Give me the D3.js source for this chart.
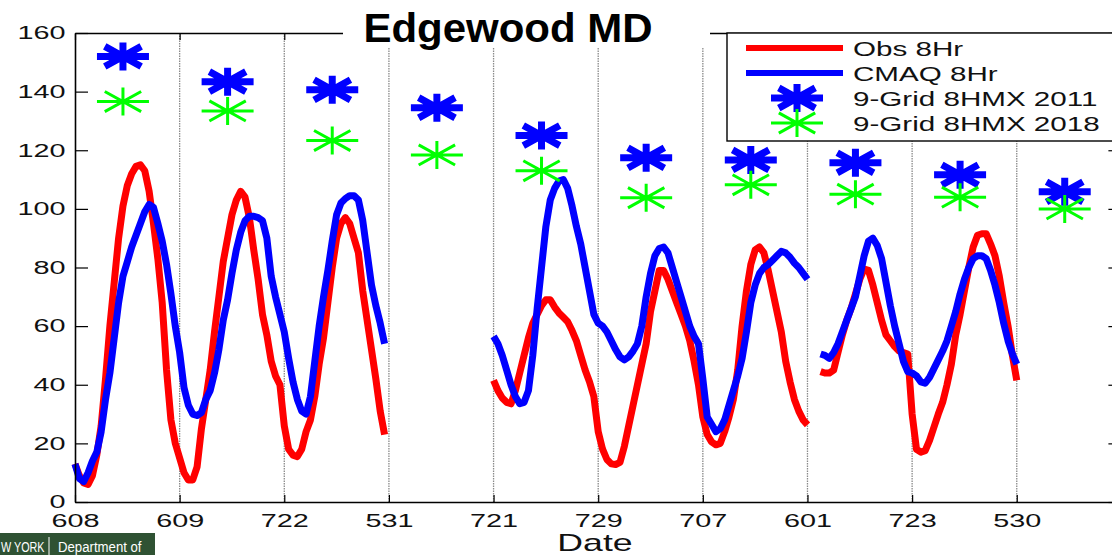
<!DOCTYPE html>
<html><head><meta charset="utf-8">
<script src="https://cdn.jsdelivr.net/npm/d3@7"></script>
<style>
body{margin:0;background:#fff;overflow:hidden;}
svg{display:block;}
text{font-family:"Liberation Sans",Arial,Helvetica,sans-serif;}
</style>
</head><body>
<svg id="c" width="1112" height="555"></svg>
<script>
// ---------------- data ----------------
const dayLabels = ['608','609','722','531','721','729','707','601','723','530'];
const yTicks = [0,20,40,60,80,100,120,140,160];
const segStarts = [0, 96, 171];   // first hour of each continuous segment
const markerHour = 11;            // hour within each day where the 9-grid maxima are plotted

const obsA = [13,9,6.5,6,9,16,26,42,60,75,90,101,108,112,114.5,115,113,106,95,83,68,45,28,20,
  15,10,7.5,7.5,12,25,35,45,58,70,82,90,98,103,106,104,97,86,76,64,57,48,43,40,
  26,18,16,15.5,18,24,28,36,47,56,68,80,90,95,97,95,90,85,72,62,52,42,31,23];
const obsB = [41.5,38,35.5,34,33.5,38,44,50,56,61,64,67,69,69,66.5,64.5,63,61.5,58.5,55,50,45,41,36,
  24,18,14.5,13,12.8,13.5,19,26,33,40,47,54,65,72,79,79,76,72,68,64,60,55,48,40,
  29,23,20.5,19.5,20,24,29,35,45,60,72,81,86,87,85,79,72,65,58,48,41,35,31,28,26.3];
const obsC = [44.5,44,44,45,51,57,62,66,71,76,79.5,79,74,68,62,57,55,53,51.5,51,50.5,30,18,17,
  17.5,21,25.5,30,34,40,47,57,64,72,80,87,91,91.5,91.5,88,84,77,68,60,50,41.5];

const cmaqA = [13,8,7,10,14,17,24,35,44,56,68,77,82,87,91,95,99,101.5,100.5,95,89,81,71,60,
  51,39,33,30,29.5,30.5,35,38,44,52,62,69,78,86,92,96,97.5,97.5,97,96,90,77,70,64,
  58,49,41,35,31,30,36,48,60,70,79,89,98,102,103.5,104.5,104.5,103,96,85,74,67,61,54];
const cmaqB = [56.5,54,50,45,40,36,33.5,34,38,50,66,80,94,103,107,109.5,110,107,101,94,88,80,72,64,
  61,60,58,55,52,49.5,48.5,49.5,51.5,54,60,70,78,84,86.5,87,85,80,75,70,65,60,56.5,54,
  42,29,26.5,24,25,28,33,38,43,49,58,68,74,78,80,81,82.5,84,85.5,85,83.5,81.5,80,78,76];
const cmaqC = [50.5,50,49,51,54,58,62,66,70,77,84,89,90,87.5,83,75,67,60,54,48,44.5,44,43,41,
  40.5,42.5,45.5,48.5,51.5,55,60,65,71,76,80,83,84,84,83,79,74,68,61,55,50.5,47];

const grid2011 = [152,143.4,140.6,134.5,125,117.4,116.7,115.7,111.6,105.8];
const grid2018 = [136.6,133.4,123.3,118.4,113,103.8,108.2,105,104,100];

const legendLabels = ['Obs  8Hr','CMAQ 8Hr','9-Grid 8HMX 2011','9-Grid 8HMX 2018'];
const titleText = 'Edgewood MD';
const xTitle = 'Date';

// ---------------- drawing ----------------
const RED='#ff0000', BLUE='#0000ff', GREEN='#00ff00';
const svg = d3.select('#c');
const L=75, T=33, B=502;
const x = d3.scaleLinear().domain([0,240]).range([L, L+240*4.36]);
const y = d3.scaleLinear().domain([0,160]).range([B, T]);
const R = x(240);
const dayTicks = dayLabels.map((d,i)=>i*24);

// dotted vertical grid lines at day boundaries
svg.append('g').selectAll('line').data(dayTicks.slice(1)).join('line')
  .attr('x1',d=>x(d)).attr('x2',d=>x(d)).attr('y1',T).attr('y2',B)
  .attr('stroke','#8a8a8a').attr('stroke-width',1.3).attr('stroke-dasharray','1.5,1');

// lines
const line = (start)=>d3.line().x((d,i)=>x(start+i)).y(d=>y(d));
const series = [
  {data:[obsA,obsB,obsC], color:RED},
  {data:[cmaqA,cmaqB,cmaqC], color:BLUE}
];
series.forEach(s=>{
  s.data.forEach((arr,k)=>{
    svg.append('path').datum(arr).attr('d',line(segStarts[k]))
      .attr('fill','none').attr('stroke',s.color).attr('stroke-width',7)
      .attr('stroke-linejoin','round').attr('stroke-linecap','butt');
  });
});

// asterisk marker
function star(g, cx, cy, color, sw){
  const rx=26, ry=14, dx=rx*0.7, dy=ry*0.72;
  const p = `M${cx-rx},${cy}H${cx+rx}M${cx},${cy-ry}V${cy+ry}`+
    `M${cx-dx},${cy-dy}L${cx+dx},${cy+dy}M${cx-dx},${cy+dy}L${cx+dx},${cy-dy}`;
  g.append('path').attr('d',p).attr('stroke',color).attr('stroke-width',sw).attr('fill','none');
}
const mk = svg.append('g');
grid2011.forEach((v,i)=>star(mk, x(i*24+markerHour), y(v), BLUE, 7));
grid2018.forEach((v,i)=>star(mk, x(i*24+markerHour), y(v), GREEN, 3));

// axes
const FS = 18, SX = 1.6;
const ax = svg.append('g');
const gL = ax.append('g').attr('transform',`translate(${L},0)`)
  .call(d3.axisLeft(y).tickValues(yTicks).tickSizeInner(-13).tickSizeOuter(0).tickPadding(6));
const gRt = ax.append('g').attr('transform',`translate(${R},0)`)
  .call(d3.axisRight(y).tickValues(yTicks).tickSizeInner(-13).tickSizeOuter(0).tickFormat(''));
const gB = ax.append('g').attr('transform',`translate(0,${B})`)
  .call(d3.axisBottom(x).tickValues(dayTicks).tickSizeInner(-7).tickSizeOuter(0).tickPadding(12)
    .tickFormat((d,i)=>dayLabels[i]));
const gT = ax.append('g').attr('transform',`translate(0,${T})`)
  .call(d3.axisTop(x).tickValues(dayTicks).tickSizeInner(-7).tickSizeOuter(0).tickFormat(''));
[gL,gRt,gB,gT].forEach(g=>{
  g.select('.domain').attr('stroke','#000').attr('stroke-width',1.6);
  g.selectAll('.tick line').attr('stroke','#000').attr('stroke-width',1.2);
  g.selectAll('text').attr('font-size',FS).attr('fill','#111')
   .attr('font-family','"Liberation Sans",Arial,sans-serif');
});
gL.selectAll('text').attr('transform',`scale(${SX},1)`);
gB.selectAll('text').attr('transform',`scale(${SX},1)`);

// x title
svg.append('text').attr('transform',`translate(595,551) scale(1.55,1)`)
  .attr('text-anchor','middle').attr('font-size',23).attr('fill','#111').text(xTitle);

// title with white background
svg.append('rect').attr('x',343).attr('y',18).attr('width',367).attr('height',30).attr('fill','#fff');
svg.append('text').attr('transform','translate(508,42) scale(1.05,1)')
  .attr('text-anchor','middle').attr('font-size',40).attr('font-weight','bold').attr('fill','#000')
  .text(titleText);

// legend
const lg = svg.append('g');
lg.append('rect').attr('x',727).attr('y',33).attr('width',420).attr('height',108)
  .attr('fill','#fff').attr('stroke','#000').attr('stroke-width',1.4);
const rowsY = [48,73,98,123];
lg.append('line').attr('x1',746).attr('x2',843).attr('y1',rowsY[0]).attr('y2',rowsY[0])
  .attr('stroke',RED).attr('stroke-width',6);
lg.append('line').attr('x1',746).attr('x2',843).attr('y1',rowsY[1]).attr('y2',rowsY[1])
  .attr('stroke',BLUE).attr('stroke-width',6);
star(lg, 797, rowsY[2], BLUE, 7);
star(lg, 797, rowsY[3], GREEN, 3);
legendLabels.forEach((t,i)=>{
  lg.append('text').attr('transform',`translate(853,${rowsY[i]+8}) scale(1.48,1)`)
    .attr('font-size',20).attr('fill','#111').text(t);
});

// agency banner (bottom-left)
const bn = svg.append('g');
bn.append('rect').attr('x',0).attr('y',533).attr('width',155).attr('height',22).attr('fill','#2f5233');
bn.append('text').attr('transform','translate(1,552) scale(0.72,1)')
  .attr('font-size',15).attr('fill','#fff').text('W YORK');
bn.append('line').attr('x1',49).attr('x2',49).attr('y1',537).attr('y2',555).attr('stroke','#fff').attr('stroke-width',1);
bn.append('text').attr('transform','translate(58,552) scale(0.88,1)')
  .attr('font-size',15).attr('fill','#fff').text('Department of');
</script>
</body></html>
